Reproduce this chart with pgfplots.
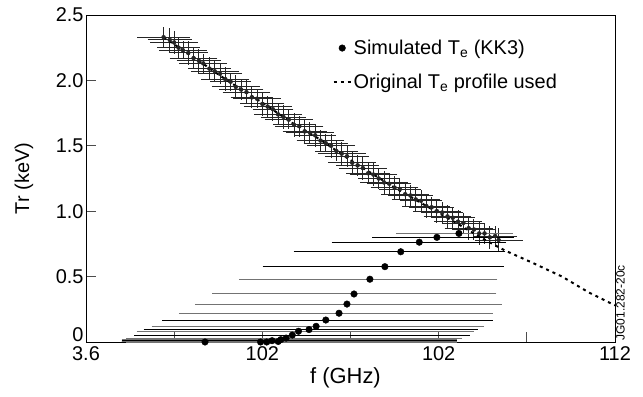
\documentclass[border=0pt]{standalone}
\usepackage{fontspec}
\setmainfont{Liberation Sans}
\usepackage{pgfplots}
\usepackage{pgfplotstable}
\pgfplotsset{compat=1.18}
\pgfplotstableread{
x y ex ey
0.88 2.33 0.25 0.08
0.95 2.31 0.20 0.09
1.00 2.29 0.22 0.09
1.05 2.25 0.19 0.08
1.10 2.23 0.22 0.07
1.16 2.21 0.17 0.09
1.22 2.17 0.22 0.08
1.28 2.15 0.20 0.09
1.33 2.13 0.22 0.07
1.40 2.09 0.19 0.09
1.46 2.07 0.22 0.08
1.52 2.05 0.20 0.08
1.58 2.01 0.22 0.09
1.64 1.99 0.18 0.07
1.70 1.95 0.22 0.09
1.76 1.93 0.20 0.08
1.82 1.91 0.22 0.09
1.88 1.87 0.19 0.08
1.94 1.86 0.22 0.07
2.00 1.82 0.20 0.09
2.06 1.80 0.22 0.08
2.12 1.78 0.18 0.09
2.18 1.74 0.22 0.08
2.24 1.72 0.20 0.09
2.30 1.70 0.22 0.07
2.36 1.66 0.19 0.09
2.42 1.65 0.22 0.08
2.48 1.61 0.20 0.09
2.54 1.60 0.22 0.08
2.60 1.58 0.18 0.09
2.66 1.54 0.22 0.08
2.72 1.52 0.20 0.07
2.78 1.50 0.22 0.09
2.84 1.46 0.19 0.08
2.90 1.44 0.22 0.09
2.96 1.42 0.20 0.08
3.02 1.37 0.22 0.09
3.08 1.35 0.19 0.08
3.14 1.33 0.22 0.09
3.20 1.29 0.20 0.08
3.26 1.28 0.22 0.09
3.32 1.25 0.18 0.08
3.38 1.22 0.22 0.09
3.44 1.21 0.20 0.08
3.50 1.18 0.22 0.09
3.56 1.17 0.19 0.08
3.62 1.13 0.22 0.09
3.68 1.12 0.20 0.08
3.74 1.09 0.22 0.09
3.80 1.08 0.19 0.08
3.86 1.04 0.22 0.09
3.92 1.03 0.20 0.08
3.98 1.00 0.22 0.09
4.04 0.99 0.19 0.08
4.10 0.96 0.22 0.09
4.16 0.95 0.20 0.08
4.22 0.92 0.22 0.09
4.28 0.91 0.19 0.08
4.34 0.87 0.22 0.09
4.40 0.86 0.20 0.08
4.46 0.83 0.22 0.09
4.52 0.83 0.19 0.08
4.58 0.80 0.22 0.09
4.64 0.81 0.20 0.08
4.68 0.78 0.22 0.09
}\band
\pgfplotstableread{
x y em ep
3.98 0.800 0.69 0.83
3.78 0.763 0.95 0.94
3.57 0.690 1.17 1.14
3.39 0.576 1.34 1.30
2.72 0.168 1.81 1.85
2.53 0.095 1.83 1.87
2.34 0.053 1.75 1.97
2.11 0.010 1.66 2.05
1.98 0.000 1.53 2.18
}\simblack
\pgfplotstableread{
x y em ep
4.23 0.830 0.67 0.57
3.22 0.480 1.44 1.40
3.04 0.367 1.56 1.57
2.96 0.290 1.68 1.71
2.87 0.220 1.77 1.70
2.61 0.120 1.82 1.86
2.41 0.082 1.79 1.94
2.27 0.030 1.77 1.95
2.21 0.018 1.76 1.95
2.18 0.004 1.73 1.98
2.05 0.000 1.60 2.11
1.35 0.000 0.90 2.80
}\simgray
\begin{document}
\begin{tikzpicture}
\path[use as bounding box] (0,0) rectangle (643bp,397bp);
\begin{axis}[
  at={(86bp,55bp)}, anchor=south west,
  scale only axis, width=529bp, height=327bp,
  xmin=0, xmax=6, ymin=0, ymax=2.5,
  xtick={0,1,2,3,4,5,6}, xticklabels={3.6,,102,,102,,112},
  ytick={0,0.5,1,1.5,2,2.5}, yticklabels={\raisebox{1bp}[0pt][0pt]{0},0.5,1.0,1.5,2.0,2.5},
  /pgf/number format/assume math mode=true,
  tick align=inside, major tick length=10bp,
  xtick pos=bottom, ytick pos=left,
  axis line style={line width=0.8bp},
  tick style={line width=0.8bp, black!70},
  ticklabel style={font=\fontsize{20}{20}\selectfont},
  xticklabel style={yshift=-1bp},
  yticklabel style={xshift=1bp},
  xlabel={f (GHz)}, ylabel={Tr (keV)},
  xlabel style={font=\fontsize{22}{22}\selectfont, at={(rel axis cs:0.5,0)}, anchor=center, yshift=-36bp, xshift=-5bp},
  ylabel style={font=\fontsize{20}{20}\selectfont, at={(rel axis cs:0,0.5)}, anchor=center, yshift=62bp},
  clip=false,
  legend style={draw=none, fill=none, at={(0.466,0.93)}, anchor=north west,
    font=\fontsize{20}{20}\selectfont, row sep=14bp, inner sep=0pt},
  legend cell align=left,
]
% band: x errors with caps
\addplot[black!85, only marks, mark=*, mark size=0.7bp, forget plot,
  error bars/.cd, x dir=both, x explicit,
  error bar style={line width=0.9bp, black!85},
  error mark options={mark size=4.5bp, line width=0.9bp, black!85}]
  table[x=x, y=y, x error=ex] {\band};
% band: y errors, no caps
\addplot[black!85, only marks, mark=none, forget plot,
  error bars/.cd, y dir=both, y explicit, error mark=none,
  error bar style={line width=0.9bp, black!85}]
  table[x=x, y=y, y error=ey] {\band};
% simulated: black bars
\addplot[black, only marks, mark=*, mark size=3.3bp,
  error bars/.cd, x dir=both, x explicit,
  error bar style={line width=1bp, black},
  error mark options={mark size=4bp, line width=1bp, black}]
  table[x=x, y=y, x error plus=ep, x error minus=em] {\simblack};
\addlegendentry{Simulated T\textsubscript{e} (KK3)}
% simulated: gray bars
\addplot[black, only marks, mark=*, mark size=3.3bp, forget plot,
  error bars/.cd, x dir=both, x explicit,
  error bar style={line width=1bp, black!55},
  error mark options={mark size=4bp, line width=1bp, black!55}]
  table[x=x, y=y, x error plus=ep, x error minus=em] {\simgray};
% original profile
\addplot[black, line width=2bp, dash pattern=on 3bp off 4bp, mark=none]
  coordinates {(0.88,2.33) (1.3,2.14) (1.6,2.0) (2.0,1.83) (2.35,1.67)
  (2.65,1.55) (3.0,1.39) (3.5,1.18) (3.86,1.04) (4.2,0.91) (4.5,0.79)
  (4.75,0.70) (5.05,0.61) (5.4,0.50) (5.7,0.38) (6.0,0.28)};
\addlegendentry{Original T\textsubscript{e} profile used}
\node[rotate=90, anchor=north, font=\fontsize{12}{12}\selectfont, inner sep=1bp]
  at (rel axis cs:1,0.12) {JG01.282-20c};
\end{axis}
\end{tikzpicture}
\end{document}
